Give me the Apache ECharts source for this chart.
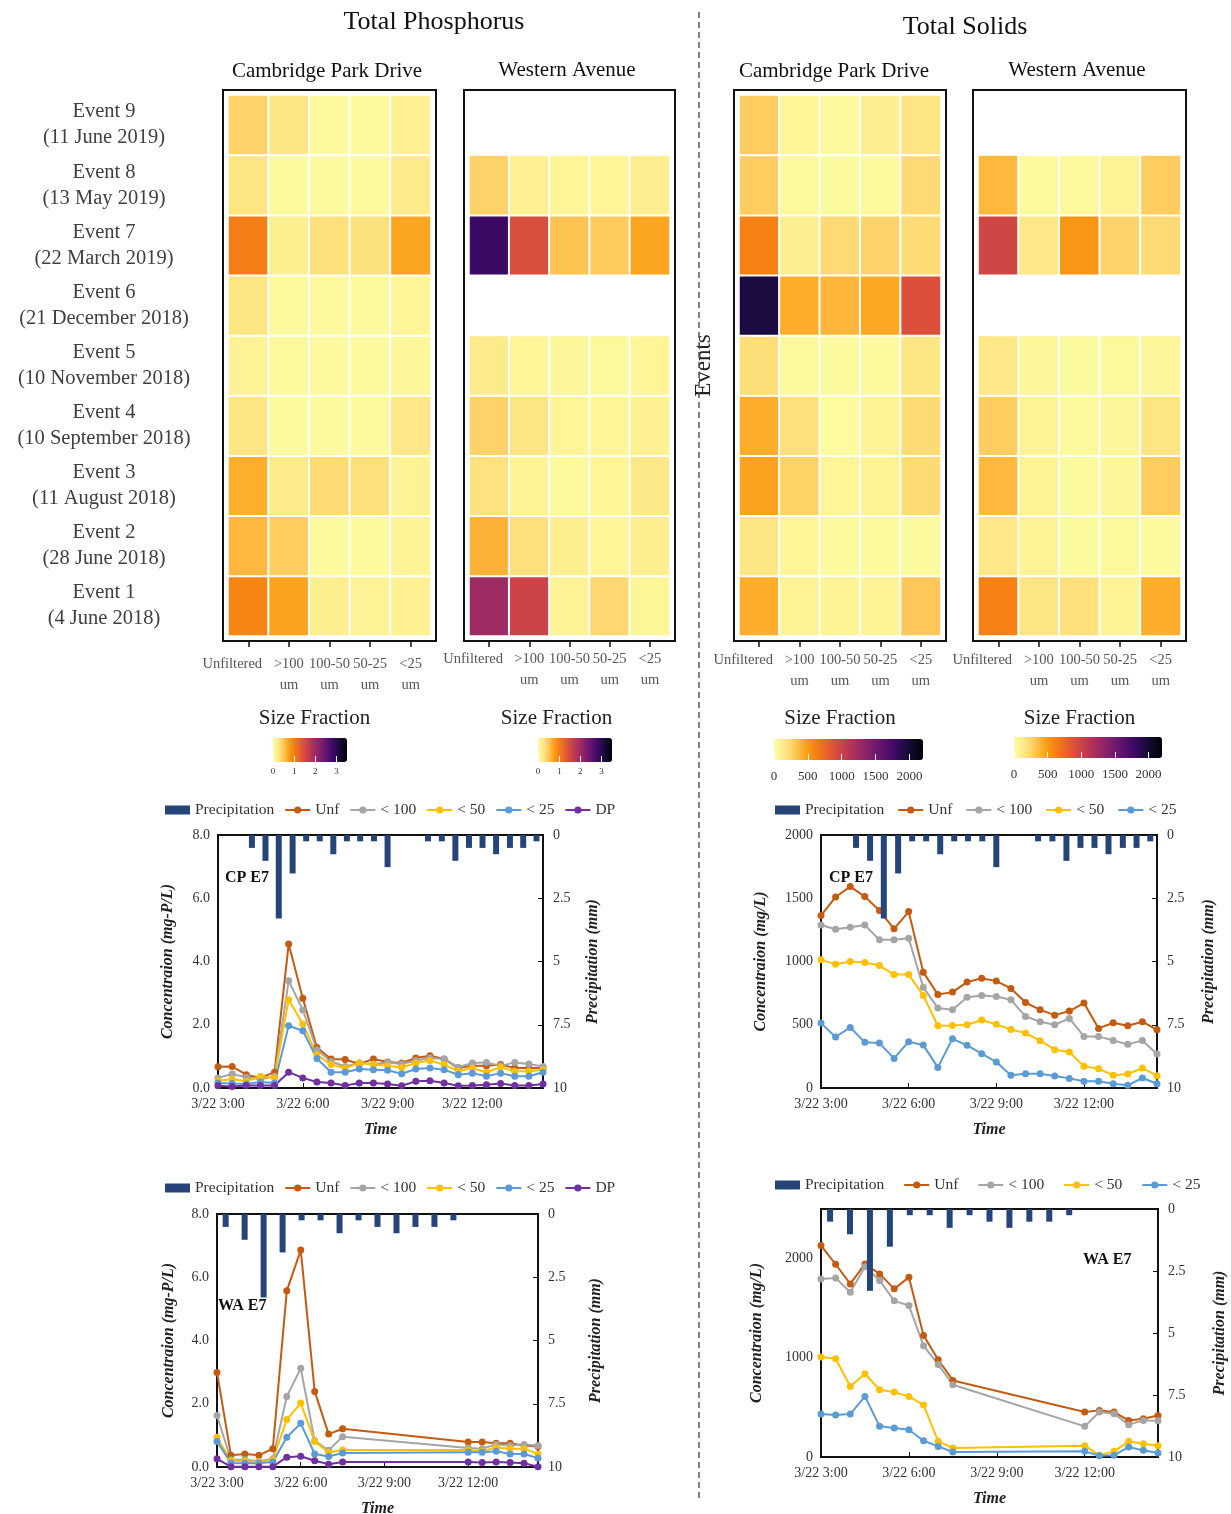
<!DOCTYPE html>
<html>
<head>
<meta charset="utf-8">
<script src="https://cdn.jsdelivr.net/npm/echarts@6/dist/echarts.min.js"></script>
<style>
html, body { margin: 0; padding: 0; background: #fff; }
#chart { width: 1231px; height: 1514px; }
</style>
</head>
<body>
<div id="chart"></div>
<script>
const FONT = "'Liberation Serif', 'Times New Roman', serif";

// ---- Heatmap categories ----
const events = [
  'Event 1\n(4 June 2018)', 'Event 2\n(28 June 2018)', 'Event 3\n(11 August 2018)',
  'Event 4\n(10 September 2018)', 'Event 5\n(10 November 2018)', 'Event 6\n(21 December 2018)',
  'Event 7\n(22 March 2019)', 'Event 8\n(13 May 2019)', 'Event 9\n(11 June 2019)'
];
const fractions = ['Unfiltered', '>100\num', '100-50\num', '50-25\num', '<25\num'];

// Event mean concentrations, rows Event 1..9, columns = size fractions (null = not sampled)
const tpCambridge = [
  [0.95, 0.74, 0.17, 0.12, 0.14],
  [0.60, 0.46, 0.04, 0.05, 0.11],
  [0.66, 0.21, 0.35, 0.31, 0.12],
  [0.26, 0.04, 0.04, 0.05, 0.24],
  [0.12, 0.06, 0.05, 0.05, 0.08],
  [0.26, 0.05, 0.05, 0.05, 0.10],
  [1.00, 0.17, 0.31, 0.30, 0.72],
  [0.26, 0.04, 0.04, 0.05, 0.21],
  [0.42, 0.25, 0.05, 0.05, 0.14]
];
const tpWestern = [
  [2.00, 1.58, 0.12, 0.38, 0.09],
  [0.63, 0.31, 0.17, 0.10, 0.17],
  [0.29, 0.12, 0.07, 0.10, 0.22],
  [0.42, 0.26, 0.10, 0.10, 0.14],
  [0.20, 0.10, 0.08, 0.07, 0.10],
  null,
  [2.84, 1.44, 0.53, 0.48, 0.72],
  [0.42, 0.15, 0.10, 0.10, 0.16],
  null
];
const tsCambridge = [
  [420, 80, 70, 70, 310],
  [155, 65, 25, 25, 30],
  [460, 265, 65, 80, 225],
  [420, 200, 20, 80, 225],
  [210, 35, 25, 25, 155],
  [1950, 420, 385, 440, 890],
  [615, 100, 230, 255, 220],
  [290, 35, 25, 35, 230],
  [290, 65, 25, 100, 165]
];
const tsWestern = [
  [615, 165, 195, 80, 420],
  [150, 80, 25, 35, 30],
  [375, 80, 30, 55, 290],
  [290, 80, 35, 60, 165],
  [150, 45, 25, 35, 60],
  null,
  [970, 150, 515, 255, 230],
  [375, 25, 40, 80, 290],
  null
];

// ---- Event 7 (22 March 2019) time series, hours of the day ----
const cpTimes = [3, 3.5, 4, 4.5, 5, 5.5, 6, 6.5, 7, 7.5, 8, 8.5, 9, 9.5, 10, 10.5, 11, 11.5, 12, 12.5, 13, 13.5, 14, 14.5];
const waTimes = [3, 3.5, 4, 4.5, 5, 5.5, 6, 6.5, 7, 7.5, 12, 12.5, 13, 13.5, 14, 14.5];

const cpTpUnf = [0.67, 0.68, 0.42, 0.32, 0.50, 4.55, 2.84, 1.28, 0.92, 0.90, 0.76, 0.92, 0.82, 0.79, 0.95, 1.02, 0.92, 0.63, 0.70, 0.70, 0.74, 0.63, 0.63, 0.63];
const cpTp100 = [0.32, 0.44, 0.34, 0.28, 0.37, 3.39, 2.47, 1.21, 0.84, 0.68, 0.79, 0.76, 0.81, 0.76, 0.87, 0.95, 0.92, 0.66, 0.79, 0.81, 0.70, 0.81, 0.76, 0.68];
const cpTp50 = [0.23, 0.28, 0.21, 0.37, 0.32, 2.79, 2.02, 1.05, 0.74, 0.63, 0.79, 0.74, 0.70, 0.65, 0.79, 0.87, 0.74, 0.53, 0.63, 0.50, 0.66, 0.53, 0.53, 0.58];
const cpTp25 = [0.16, 0.14, 0.13, 0.19, 0.16, 1.97, 1.81, 0.93, 0.50, 0.50, 0.60, 0.58, 0.56, 0.45, 0.60, 0.63, 0.58, 0.42, 0.47, 0.37, 0.47, 0.37, 0.37, 0.50];
const cpTpDP = [0.07, 0.05, 0.08, 0.08, 0.08, 0.50, 0.32, 0.19, 0.16, 0.08, 0.16, 0.16, 0.13, 0.07, 0.21, 0.23, 0.16, 0.07, 0.08, 0.10, 0.14, 0.08, 0.08, 0.13];

const cpTsUnf = [1363, 1510, 1592, 1513, 1403, 1258, 1395, 916, 739, 758, 837, 868, 845, 787, 676, 618, 576, 608, 671, 471, 516, 492, 524, 460];
const cpTs100 = [1289, 1255, 1271, 1289, 1171, 1171, 1184, 797, 632, 618, 718, 732, 724, 697, 566, 524, 500, 550, 408, 408, 376, 345, 376, 268];
const cpTs50 = [1013, 979, 1000, 992, 968, 897, 897, 732, 492, 495, 500, 537, 503, 463, 434, 374, 303, 284, 171, 153, 100, 111, 158, 97];
const cpTs25 = [513, 403, 479, 361, 355, 234, 366, 339, 163, 389, 337, 271, 205, 100, 113, 113, 95, 76, 53, 53, 34, 21, 79, 34];

const waTpUnf = [2.99, 0.37, 0.41, 0.37, 0.58, 5.57, 6.86, 2.39, 1.04, 1.21, 0.79, 0.79, 0.75, 0.75, 0.68, 0.65];
const waTp100 = [1.63, 0.23, 0.23, 0.18, 0.26, 2.23, 3.12, 0.83, 0.53, 0.96, 0.60, 0.58, 0.71, 0.68, 0.71, 0.68];
const waTp50 = [0.94, 0.20, 0.18, 0.16, 0.23, 1.50, 2.02, 0.81, 0.46, 0.54, 0.54, 0.50, 0.62, 0.58, 0.58, 0.41];
const waTp25 = [0.81, 0.13, 0.12, 0.12, 0.16, 0.94, 1.38, 0.41, 0.33, 0.44, 0.47, 0.47, 0.50, 0.41, 0.41, 0.28];
const waTpDP = [0.26, 0.01, 0.01, 0.01, 0.01, 0.31, 0.34, 0.20, 0.09, 0.16, 0.16, 0.14, 0.16, 0.14, 0.12, 0.01];

const waTsUnf = [2131, 1943, 1745, 1946, 1846, 1695, 1812, 1225, 980, 772, 453, 470, 453, 369, 386, 419];
const waTs100 = [1795, 1805, 1661, 1919, 1779, 1574, 1527, 1121, 933, 728, 309, 453, 436, 326, 369, 366];
const waTs50 = [1007, 990, 711, 839, 678, 654, 611, 523, 158, 91, 114, 17, 57, 158, 134, 114];
const waTs25 = [433, 423, 433, 611, 309, 292, 275, 164, 107, 50, 57, 13, 17, 101, 67, 40];

// Rainfall (mm) per interval
const cpRainTimes = [4.2, 4.68, 5.15, 5.64, 6.12, 6.6, 7.08, 7.56, 8.03, 8.52, 9.0, 10.43, 10.92, 11.4, 11.88, 12.36, 12.84, 13.33, 13.8, 14.27];
const cpRain = [0.51, 1.02, 3.30, 1.52, 0.25, 0.25, 0.76, 0.25, 0.25, 0.25, 1.27, 0.25, 0.25, 1.02, 0.51, 0.51, 0.76, 0.51, 0.51, 0.25];
const waRainTimes = [3.31, 3.99, 4.67, 5.35, 6.03, 6.71, 7.39, 8.07, 8.75, 9.43, 10.11, 10.79, 11.47];
const waRain = [0.51, 1.02, 3.30, 1.52, 0.25, 0.25, 0.76, 0.25, 0.51, 0.76, 0.51, 0.51, 0.25];

// Colour-bar ranges
const tpBarMax = 3.5;
const tsBarMax = 2200;

// Reversed inferno ramp
const RAMP = ['#fcfea4', '#fdee8f', '#fddc76', '#fdc452', '#fca822', '#f88e10', '#f37819', '#e9652a', '#dd513a',
  '#cd4447', '#bc3754', '#a72e5e', '#932667', '#7e1e6c', '#6a176e', '#56106b', '#420a68', '#2c0b51',
  '#160b39', '#0b081e', '#000004'];

const C = { rain: '#254478', unf: '#c55a11', c100: '#a5a5a5', c50: '#ffc000', c25: '#5b9bd5', dp: '#7030a0' };

function heatData(rows) {
  const out = [];
  rows.forEach((row, i) => {
    if (!row) return;
    row.forEach((v, j) => out.push([j, i, v]));
  });
  return out;
}
function pairs(xs, ys) { return xs.map((x, i) => [x, ys[i]]); }

// ---- layout boxes ----
const heatBoxes = [
  { left: 228, top: 95, width: 203, height: 541, labelMargin: 13, namePad: [0, 30, 0, 0] },
  { left: 469, top: 95, width: 201, height: 541, labelMargin: 8, namePad: [0, 26, 0, 0] },
  { left: 739, top: 95, width: 202, height: 541, labelMargin: 9, namePad: [0, 0, 0, 0] },
  { left: 978, top: 95, width: 203, height: 541, labelMargin: 9, namePad: [0, 0, 0, 0] }
];
const barBoxes = [
  { left: 273, top: 738, width: 74, height: 24, max: tpBarMax, interval: 1, fs: 9, margin: 5 },
  { left: 538, top: 738, width: 74, height: 24, max: tpBarMax, interval: 1, fs: 9, margin: 5 },
  { left: 774, top: 739, width: 149, height: 21, max: tsBarMax, interval: 500, fs: 13, margin: 10 },
  { left: 1014, top: 737, width: 148, height: 21, max: tsBarMax, interval: 500, fs: 13, margin: 10 }
];
const lineBoxes = [
  { left: 218, top: 835, width: 325, height: 253 },
  { left: 821, top: 835, width: 336, height: 253 },
  { left: 217, top: 1214, width: 321, height: 253 },
  { left: 821, top: 1209, width: 337, height: 248 }
];

const grid = [], xAxis = [], yAxis = [], series = [], visualMap = [];

// heatmaps
const heatSets = [tpCambridge, tpWestern, tsCambridge, tsWestern];
heatBoxes.forEach((b, i) => {
  grid.push({ left: b.left, top: b.top, width: b.width, height: b.height, show: false, outerBoundsMode: 'none', containLabel: false });
  xAxis.push({
    type: 'category', gridIndex: i, data: fractions, position: 'bottom', offset: 5,
    axisLine: { show: false },
    axisTick: { show: true, alignWithLabel: true, length: 6, lineStyle: { color: '#111', width: 1.5 } },
    axisLabel: {
      fontFamily: FONT, fontSize: 14.5, color: '#555', lineHeight: 21, margin: b.labelMargin, interval: 0,
      formatter: v => v === 'Unfiltered' ? '{u|' + v + '}' : v,
      rich: { u: { fontFamily: FONT, fontSize: 14.5, color: '#555', lineHeight: 21, padding: [0, 32, 0, 0] } }
    },
    splitLine: { show: false },
    name: 'Size Fraction', nameLocation: 'middle', nameGap: 67,
    nameTextStyle: { fontFamily: FONT, fontSize: 21, color: '#222', padding: b.namePad }
  });
  yAxis.push({
    type: 'category', gridIndex: i, data: events,
    axisLine: { show: false }, axisTick: { show: false }, splitLine: { show: false },
    axisLabel: { show: i === 0, fontFamily: FONT, fontSize: 20.5, color: '#404040', lineHeight: 26, align: 'center', margin: 124, interval: 0 },
    name: i === 2 ? 'Events' : '', nameLocation: 'middle', nameRotate: 90, nameGap: 24,
    nameTextStyle: { fontFamily: FONT, fontSize: 23, color: '#222' }
  });
  series.push({
    type: 'heatmap', name: 'heat' + i, xAxisIndex: i, yAxisIndex: i,
    data: heatData(heatSets[i]),
    itemStyle: { borderColor: '#fff', borderWidth: 2 },
    emphasis: { disabled: true }, progressive: 0
  });
  const bb = barBoxes[i];
  visualMap.push({
    type: 'continuous', seriesIndex: i, min: 0, max: bb.max,
    orient: 'horizontal', left: bb.left, top: bb.top,
    itemWidth: bb.height, itemHeight: bb.width, padding: 0,
    calculable: false, hoverLink: false, inRange: { color: RAMP }
  });
});

// colour-bar tick axes
barBoxes.forEach(b => {
  const gi = grid.length;
  grid.push({ left: b.left, top: b.top, width: b.width, height: b.height, show: false, outerBoundsMode: 'none', containLabel: false });
  xAxis.push({
    type: 'value', gridIndex: gi, min: 0, max: b.max, interval: b.interval, z: 10,
    axisLine: { show: false },
    axisTick: { show: true, inside: true, length: 6, lineStyle: { color: '#fff', width: 1 } },
    axisLabel: { fontFamily: FONT, fontSize: b.fs, color: '#333', margin: b.margin, showMaxLabel: false,
      formatter: v => String(v) },
    splitLine: { show: false }
  });
  yAxis.push({ type: 'value', gridIndex: gi, show: false, min: 0, max: 1 });
});

// line charts
const lineDefs = [
  { tp: true, times: cpTimes, rainT: cpRainTimes, rain: cpRain, max: 8, interval: 2, lgap: 42, rgap: 42,
    lines: [['Unf', cpTpUnf, C.unf], ['< 100', cpTp100, C.c100], ['< 50', cpTp50, C.c50], ['< 25', cpTp25, C.c25], ['DP', cpTpDP, C.dp]] },
  { tp: false, times: cpTimes, rainT: cpRainTimes, rain: cpRain, max: 2000, interval: 500, lgap: 52, rgap: 44,
    lines: [['Unf', cpTsUnf, C.unf], ['< 100', cpTs100, C.c100], ['< 50', cpTs50, C.c50], ['< 25', cpTs25, C.c25]] },
  { tp: true, times: waTimes, rainT: waRainTimes, rain: waRain, max: 8, interval: 2, lgap: 40, rgap: 50,
    lines: [['Unf', waTpUnf, C.unf], ['< 100', waTp100, C.c100], ['< 50', waTp50, C.c50], ['< 25', waTp25, C.c25], ['DP', waTpDP, C.dp]] },
  { tp: false, times: waTimes, rainT: waRainTimes, rain: waRain, max: 2500, interval: 1000, lgap: 56, rgap: 54,
    lines: [['Unf', waTsUnf, C.unf], ['< 100', waTs100, C.c100], ['< 50', waTs50, C.c50], ['< 25', waTs25, C.c25]] }
];
const axisNameStyle = { fontFamily: FONT, fontSize: 16, fontWeight: 'bold', fontStyle: 'italic', color: '#222' };
lineDefs.forEach((d, k) => {
  const gi = grid.length;
  grid.push(Object.assign({ show: true, borderColor: '#111', borderWidth: 2, backgroundColor: 'transparent', outerBoundsMode: 'none', containLabel: false }, lineBoxes[k]));
  const xi = xAxis.length;
  xAxis.push({
    type: 'value', gridIndex: gi, min: 3, max: 14.5, interval: 3,
    axisLine: { show: false },
    axisTick: { show: true, inside: true, length: 5, lineStyle: { color: '#111' } },
    axisLabel: { fontFamily: FONT, fontSize: 14, color: '#333', margin: 9, showMaxLabel: false,
      formatter: v => '3/22 ' + v + ':00' },
    splitLine: { show: false },
    name: 'Time', nameLocation: 'middle', nameGap: 34, nameTextStyle: axisNameStyle
  });
  const yl = yAxis.length;
  yAxis.push({
    type: 'value', gridIndex: gi, position: 'left', min: 0, max: d.max, interval: d.interval,
    axisLine: { show: false }, axisTick: { show: false }, splitLine: { show: false },
    axisLabel: { fontFamily: FONT, fontSize: 14, color: '#333', margin: 8, showMaxLabel: d.max !== 2500,
      formatter: v => d.tp ? v.toFixed(1) : String(v) },
    name: d.tp ? 'Concentraion (mg-P/L)' : 'Concentraion (mg/L)',
    nameLocation: 'middle', nameRotate: 90, nameGap: d.lgap, nameTextStyle: axisNameStyle
  });
  yAxis.push({
    type: 'value', gridIndex: gi, position: 'right', min: 0, max: 10, interval: 2.5, inverse: true,
    axisLine: { show: false },
    axisTick: { show: true, inside: true, length: 5, lineStyle: { color: '#111' } },
    splitLine: { show: false },
    axisLabel: { fontFamily: FONT, fontSize: 14, color: '#333', margin: 10 },
    name: 'Precipitation (mm)', nameLocation: 'middle', nameRotate: 90, nameGap: d.rgap, nameTextStyle: axisNameStyle
  });
  d.lines.forEach(([name, vals, color]) => {
    series.push({
      type: 'line', name, xAxisIndex: xi, yAxisIndex: yl, data: pairs(d.times, vals),
      symbol: 'circle', symbolSize: 7, color,
      lineStyle: { color, width: 2 }, itemStyle: { color },
      emphasis: { disabled: true }, z: 3
    });
  });
  series.push({
    type: 'bar', name: 'Precipitation', xAxisIndex: xi, yAxisIndex: yl + 1,
    data: pairs(d.rainT, d.rain), barWidth: 6, color: C.rain,
    itemStyle: { color: C.rain }, emphasis: { disabled: true }, z: 4
  });
});

const legendText = { fontFamily: FONT, fontSize: 15.5, color: '#333' };
function legend(left, top, withDP, gap) {
  const data = [{ name: 'Precipitation', icon: 'rect' }, 'Unf', '< 100', '< 50', '< 25'];
  if (withDP) data.push('DP');
  return { left, top, data, itemWidth: 25, itemHeight: 9, itemGap: gap, textStyle: legendText,
    selectedMode: false, padding: 0 };
}

// frames, titles, separator and panel tags
const graphic = [];
heatBoxes.forEach(b => {
  graphic.push({ type: 'rect', shape: { x: b.left - 5, y: b.top - 5, width: b.width + 10, height: b.height + 10 },
    style: { fill: 'none', stroke: '#111', lineWidth: 2 }, z: 10 });
});
function txt(x, y, text, size, opts) {
  return Object.assign({ type: 'text', x, y, z: 20,
    style: Object.assign({ text, fontFamily: FONT, fontSize: size, fill: '#111', align: 'center', verticalAlign: 'middle' }, opts || {}) });
}
graphic.push(txt(434, 22, 'Total Phosphorus', 26));
graphic.push(txt(965, 27, 'Total Solids', 26));
graphic.push(txt(327, 71, 'Cambridge Park Drive', 21));
graphic.push(txt(567, 70, 'Western Avenue', 21));
graphic.push(txt(834, 71, 'Cambridge Park Drive', 21));
graphic.push(txt(1077, 70, 'Western Avenue', 21));
graphic.push(txt(225, 878, 'CP E7', 16, { align: 'left', fontWeight: 'bold' }));
graphic.push(txt(829, 878, 'CP E7', 16, { align: 'left', fontWeight: 'bold' }));
graphic.push(txt(218, 1306, 'WA E7', 16, { align: 'left', fontWeight: 'bold' }));
graphic.push(txt(1083, 1260, 'WA E7', 16, { align: 'left', fontWeight: 'bold' }));
graphic.push({ type: 'line', shape: { x1: 699, y1: 12, x2: 699, y2: 1502 },
  style: { stroke: '#555', lineWidth: 1.5, lineDash: [6, 4] }, z: 1 });

const chart = echarts.init(document.getElementById('chart'), null, { renderer: 'canvas' });
chart.setOption({
  backgroundColor: '#fff',
  animation: false,
  textStyle: { fontFamily: FONT },
  grid, xAxis, yAxis, series, visualMap,
  legend: [
    legend(165, 802, true, 10),
    legend(775, 802, false, 13),
    legend(165, 1180, true, 10),
    legend(775, 1177, false, 19)
  ],
  graphic
});
</script>
</body>
</html>
